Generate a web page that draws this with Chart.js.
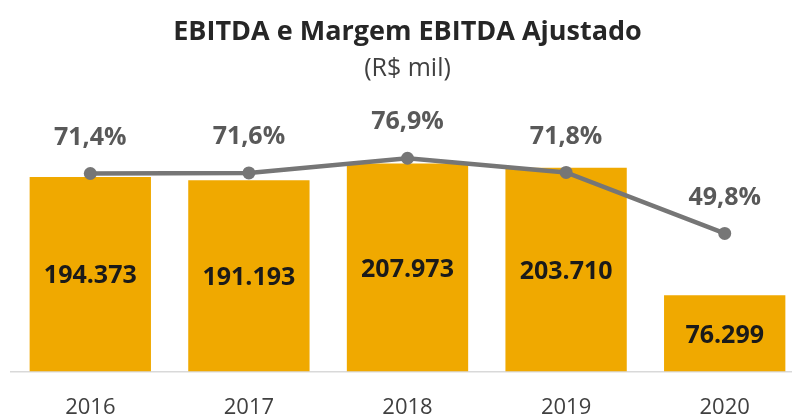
<!DOCTYPE html>
<html>
<head>
<meta charset="utf-8">
<script src="https://cdn.jsdelivr.net/npm/chart.js@4/dist/chart.umd.min.js"></script>
<style>
  html, body { margin: 0; padding: 0; background: #fff; overflow: hidden; }
  #wrap { position: relative; width: 834px; height: 417px; }
</style>
</head>
<body>
<div id="wrap"><canvas id="grafico"></canvas></div>
<script>
const anos = ['2016', '2017', '2018', '2019', '2020'];
const ebitda = [194373, 191193, 207973, 203710, 76299];
const margem = [71.4, 71.6, 76.9, 71.8, 49.8];

const fonte = "'Open Sans', 'DejaVu Sans', sans-serif";

function formatMil(v) {
  return String(v).replace(/\B(?=(\d{3})+(?!\d))/g, '.');
}

function formatPct(v) {
  return v.toFixed(1).replace('.', ',') + '%';
}

// escreve os rotulos das barras e da linha
const rotulos = {
  id: 'rotulos',
  afterDatasetsDraw(chart) {
    const ctx = chart.ctx;
    ctx.save();
    ctx.textAlign = 'center';
    ctx.textBaseline = 'middle';

    ctx.font = 'bold 25px ' + fonte;
    ctx.fillStyle = '#1a1a1a';
    chart.getDatasetMeta(1).data.forEach((bar, i) => {
      ctx.fillText(formatMil(ebitda[i]), bar.x, (bar.y + bar.base) / 2 + 2);
    });

    ctx.font = 'bold 25px ' + fonte;
    ctx.fillStyle = '#595959';
    chart.getDatasetMeta(0).data.forEach((pt, i) => {
      ctx.fillText(formatPct(margem[i]), pt.x, pt.y - 36);
    });
    ctx.restore();
  }
};

const chartCanvas = document.getElementById('grafico').getContext('2d');

new Chart(chartCanvas, {
  type: 'bar',
  data: {
    labels: anos,
    datasets: [
      {
        type: 'line',
        label: 'Margem EBITDA',
        data: margem,
        yAxisID: 'y1',
        borderColor: '#767676',
        backgroundColor: '#767676',
        borderWidth: 4.5,
        pointRadius: 6.5,
        pointBackgroundColor: '#767676',
        pointBorderWidth: 0,
        tension: 0,
        order: 0
      },
      {
        type: 'bar',
        label: 'EBITDA',
        data: ebitda,
        yAxisID: 'y',
        backgroundColor: '#F0A900',
        categoryPercentage: 1,
        barPercentage: 0.765,
        order: 1
      }
    ]
  },
  options: {
    responsive: true,
    maintainAspectRatio: false,
    animation: false,
    layout: { padding: { left: 11, right: 30, top: 9, bottom: -19 } },
    plugins: {
      legend: { display: false },
      tooltip: { enabled: false },
      title: {
        display: true,
        text: 'EBITDA e Margem EBITDA Ajustado',
        color: '#262626',
        font: { family: fonte, size: 27, weight: 'bold' },
        padding: { top: 7, bottom: 5 }
      },
      subtitle: {
        display: true,
        text: '(R$ mil)',
        color: '#404040',
        font: { family: fonte, size: 25 },
        padding: { top: 0, bottom: 8 }
      }
    },
    scales: {
      x: {
        offset: true,
        grid: { display: false },
        border: { display: true, color: '#d9d9d9', width: 1.5 },
        ticks: {
          color: '#404040',
          padding: 15,
          font: { family: fonte, size: 22 }
        }
      },
      y: {
        display: false,
        min: 0,
        max: 280000
      },
      y1: {
        display: false,
        min: 0,
        max: 101
      }
    }
  },
  plugins: [rotulos]
});
</script>
</body>
</html>
